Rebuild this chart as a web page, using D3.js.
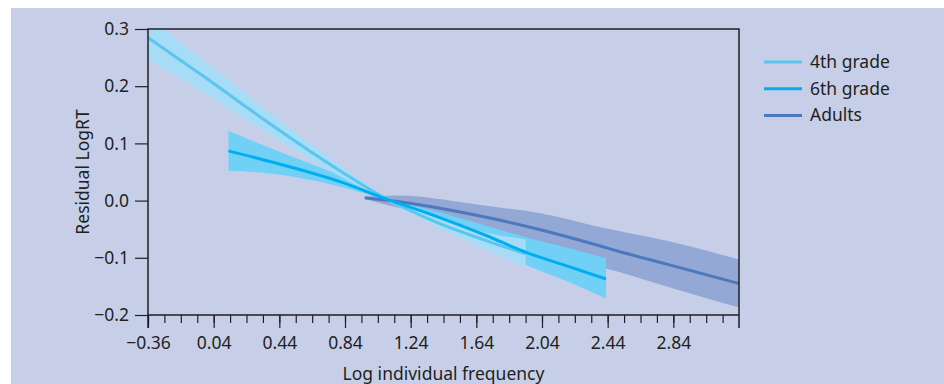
<!DOCTYPE html>
<html>
<head>
<meta charset="utf-8">
<script src="https://cdn.jsdelivr.net/npm/d3@7"></script>
<style>
  body { margin: 0; background: #fff; }
  svg text { font-family: "Noto Sans", "Open Sans", sans-serif; fill: #231f20; }
</style>
</head>
<body>
<div class="chart"></div>
<script>
// values
const xTicks = [-0.36, 0.04, 0.44, 0.84, 1.24, 1.64, 2.04, 2.44, 2.84];
const yTicks = [-0.2, -0.1, 0.0, 0.1, 0.2, 0.3];

const grade4X = [-0.36, 0.0, 0.35, 0.8, 1.1, 1.4, 1.7, 1.94];
const grade4Y = [0.285, 0.213, 0.141, 0.054, 0.002, -0.038, -0.070, -0.093];
const grade4Hi = [0.322, 0.240, 0.161, 0.064, 0.005, -0.030, -0.056, -0.068];
const grade4Lo = [0.247, 0.185, 0.121, 0.044, -0.001, -0.046, -0.086, -0.117];

const grade6X = [0.13, 0.4, 0.8, 1.1, 1.4, 1.7, 1.94, 2.2, 2.43];
const grade6Y = [0.087, 0.067, 0.034, 0.002, -0.028, -0.061, -0.090, -0.115, -0.137];
const grade6Hi = [0.122, 0.090, 0.045, 0.005, -0.019, -0.044, -0.064, -0.083, -0.101];
const grade6Lo = [0.052, 0.047, 0.025, -0.001, -0.037, -0.077, -0.112, -0.142, -0.171];

const adultX = [0.96, 1.17, 1.58, 1.78, 2.03, 2.39, 2.51, 2.8, 3.24];
const adultY = [0.005, -0.002, -0.022, -0.034, -0.051, -0.079, -0.089, -0.111, -0.145];
const adultHi = [0.007, 0.009, -0.004, -0.012, -0.022, -0.046, -0.053, -0.070, -0.103];
const adultLo = [0.003, -0.013, -0.040, -0.056, -0.080, -0.115, -0.125, -0.150, -0.187];

const series = [
    { name: "4th grade", x: grade4X, y: grade4Y, hi: grade4Hi, lo: grade4Lo, line: "#5ac6ef", band: "#a7dcf6" },
    { name: "6th grade", x: grade6X, y: grade6Y, hi: grade6Hi, lo: grade6Lo, line: "#00aeef", band: "#71d0f6" },
    { name: "Adults", x: adultX, y: adultY, hi: adultHi, lo: adultLo, line: "#4b79bc", band: "#94a8d5" }
];

const w = 944;
const h = 384;
const pLeft = 148, pRight = 739, pTop = 29, pBottom = 315;
const fs = 17.5;

const svg = d3.select(".chart")
    .append("svg")
    .attr("width", w)
    .attr("height", h);

svg.append("rect")
    .attr("x", 11).attr("y", 8)
    .attr("width", w - 11).attr("height", h - 8)
    .attr("fill", "#c7cfe8");

const x = d3.scaleLinear().domain([-0.36, 3.24]).range([pLeft, pRight]);
const y = d3.scaleLinear().domain([-0.2, 0.3]).range([pBottom, pTop]);

svg.append("clipPath").attr("id", "plot")
    .append("rect")
    .attr("x", pLeft).attr("y", pTop)
    .attr("width", pRight - pLeft).attr("height", pBottom - pTop);

const plot = svg.append("g").attr("clip-path", "url(#plot)");

const area = d3.area()
    .x(d => x(d.x))
    .y0(d => y(d.lo))
    .y1(d => y(d.hi))
    .curve(d3.curveMonotoneX);

const line = d3.line()
    .x(d => x(d.x))
    .y(d => y(d.y))
    .curve(d3.curveMonotoneX);

const rows = s => s.x.map((v, i) => ({ x: v, y: s.y[i], hi: s.hi[i], lo: s.lo[i] }));

// bands: adults below, then 6th, then 4th
[series[2], series[1], series[0]].forEach(s => {
    plot.append("path")
        .datum(rows(s))
        .attr("d", area)
        .attr("fill", s.band);
});

[series[2], series[0], series[1]].forEach(s => {
    plot.append("path")
        .datum(rows(s))
        .attr("d", line)
        .attr("fill", "none")
        .attr("stroke", s.line)
        .attr("stroke-width", 3);
});

// axes
const axisColor = "#231f20";
const xAxis = d3.axisBottom(x)
    .tickValues(d3.range(0, 36).map(i => -0.36 + i * 0.1))
    .tickSize(8)
    .tickFormat("");
const xg = svg.append("g")
    .attr("transform", `translate(0, ${pBottom})`)
    .call(xAxis);
xg.select(".domain").remove();
xg.selectAll("line").attr("stroke", axisColor).attr("stroke-width", 1.2);

const xMajor = d3.axisBottom(x)
    .tickValues(xTicks)
    .tickSize(13)
    .tickPadding(9)
    .tickFormat(d => d3.format(".2f")(d).replace("-", "\u2212"));
const xm = svg.append("g")
    .attr("transform", `translate(0, ${pBottom})`)
    .call(xMajor);
xm.select(".domain").remove();
xm.selectAll("line").attr("stroke", axisColor).attr("stroke-width", 1.2);
xm.selectAll("text").attr("font-size", fs).attr("fill", axisColor);

const yAxis = d3.axisLeft(y)
    .tickValues(yTicks)
    .tickSize(13)
    .tickPadding(6)
    .tickFormat(d => d3.format(".1f")(d).replace("-", "\u2212"));
const yg = svg.append("g")
    .attr("transform", `translate(${pLeft}, 0)`)
    .call(yAxis);
yg.select(".domain").remove();
yg.selectAll("line").attr("stroke", axisColor).attr("stroke-width", 1.2);
yg.selectAll("text").attr("font-size", fs).attr("fill", axisColor);

// frame
svg.append("path")
    .attr("d", `M${pLeft},${pBottom + 13}V${pTop}H${pRight}V${pBottom + 13}M${pLeft},${pBottom}H${pRight}`)
    .attr("fill", "none")
    .attr("stroke", axisColor)
    .attr("stroke-width", 1.5);

// axis titles
svg.append("text")
    .attr("x", (pLeft + pRight) / 2)
    .attr("y", 380)
    .attr("text-anchor", "middle")
    .attr("font-size", fs)
    .text("Log individual frequency");

svg.append("text")
    .attr("transform", `translate(89, ${(pTop + pBottom) / 2}) rotate(-90)`)
    .attr("text-anchor", "middle")
    .attr("font-size", fs)
    .text("Residual LogRT");

// legend
const legend = svg.append("g").attr("transform", "translate(764, 62)");
series.forEach((s, i) => {
    const g = legend.append("g").attr("transform", `translate(0, ${i * 26.7})`);
    g.append("line")
        .attr("x1", 0).attr("x2", 38)
        .attr("stroke", s.line)
        .attr("stroke-width", 3);
    g.append("text")
        .attr("x", 46)
        .attr("y", 6)
        .attr("font-size", fs)
        .text(s.name);
});
</script>
</body>
</html>
